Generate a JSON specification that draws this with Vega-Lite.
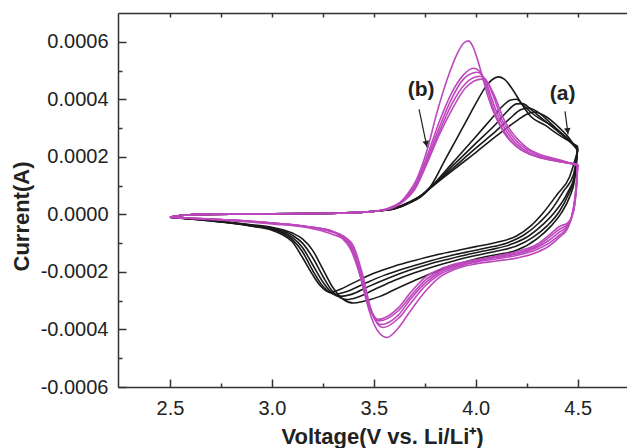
{
"$schema": "https://vega.github.io/schema/vega-lite/v6.json",
"width": 509, "height": 374,
"autosize": {"type": "none"},
"padding": {"left": 118, "top": 13, "right": 0, "bottom": 61},
"background": "white",
"config": {"view": {"stroke": null}, "axis": {"grid": false, "domainColor": "#333", "domainWidth": 1.5, "tickColor": "#333", "tickWidth": 1.5, "labelFont": "Liberation Sans", "labelFontSize": 20, "labelColor": "#222", "titleFont": "Liberation Sans", "titleFontSize": 22, "titleFontWeight": "bold", "titleColor": "#222"}},
"datasets": {
"cv": [
{"s":"a1f","g":"a","x":2.5,"y":-0.1e-4},{"s":"a1f","g":"a","x":2.55,"y":-0.04e-4},{"s":"a1f","g":"a","x":2.65,"y":0},{"s":"a1f","g":"a","x":2.8,"y":0.01e-4},{"s":"a1f","g":"a","x":3.0,"y":0.02e-4},{"s":"a1f","g":"a","x":3.2,"y":0.03e-4},{"s":"a1f","g":"a","x":3.35,"y":0.05e-4},{"s":"a1f","g":"a","x":3.45,"y":0.08e-4},{"s":"a1f","g":"a","x":3.52,"y":0.12e-4},
{"s":"a1f","g":"a","x":3.6,"y":0.22e-4},{"s":"a1f","g":"a","x":3.68,"y":0.45e-4},{"s":"a1f","g":"a","x":3.73,"y":0.65e-4},{"s":"a1f","g":"a","x":3.776,"y":0.95e-4},{"s":"a1f","g":"a","x":3.85,"y":1.9e-4},{"s":"a1f","g":"a","x":3.9,"y":2.55e-4},{"s":"a1f","g":"a","x":3.95,"y":3.2e-4},{"s":"a1f","g":"a","x":4.0,"y":3.85e-4},{"s":"a1f","g":"a","x":4.05,"y":4.45e-4},{"s":"a1f","g":"a","x":4.08,"y":4.68e-4},{"s":"a1f","g":"a","x":4.11,"y":4.78e-4},{"s":"a1f","g":"a","x":4.14,"y":4.7e-4},{"s":"a1f","g":"a","x":4.18,"y":4.35e-4},{"s":"a1f","g":"a","x":4.22,"y":3.9e-4},{"s":"a1f","g":"a","x":4.27,"y":3.4e-4},{"s":"a1f","g":"a","x":4.34,"y":3.1e-4},{"s":"a1f","g":"a","x":4.4,"y":2.8e-4},{"s":"a1f","g":"a","x":4.45,"y":2.58e-4},{"s":"a1f","g":"a","x":4.5,"y":2.37e-4},

{"s":"a2f","g":"a","x":2.5,"y":-0.1e-4},{"s":"a2f","g":"a","x":2.55,"y":-0.04e-4},{"s":"a2f","g":"a","x":2.65,"y":0},{"s":"a2f","g":"a","x":2.8,"y":0.01e-4},{"s":"a2f","g":"a","x":3.0,"y":0.02e-4},{"s":"a2f","g":"a","x":3.2,"y":0.03e-4},{"s":"a2f","g":"a","x":3.35,"y":0.05e-4},{"s":"a2f","g":"a","x":3.45,"y":0.08e-4},{"s":"a2f","g":"a","x":3.52,"y":0.12e-4},
{"s":"a2f","g":"a","x":3.6,"y":0.21e-4},{"s":"a2f","g":"a","x":3.68,"y":0.44e-4},{"s":"a2f","g":"a","x":3.73,"y":0.64e-4},{"s":"a2f","g":"a","x":3.776,"y":0.93e-4},{"s":"a2f","g":"a","x":3.85,"y":1.5e-4},{"s":"a2f","g":"a","x":3.9,"y":1.9e-4},{"s":"a2f","g":"a","x":4.0,"y":2.7e-4},{"s":"a2f","g":"a","x":4.08,"y":3.35e-4},{"s":"a2f","g":"a","x":4.13,"y":3.75e-4},{"s":"a2f","g":"a","x":4.168,"y":3.97e-4},{"s":"a2f","g":"a","x":4.2,"y":4.0e-4},{"s":"a2f","g":"a","x":4.23,"y":3.82e-4},{"s":"a2f","g":"a","x":4.27,"y":3.55e-4},{"s":"a2f","g":"a","x":4.32,"y":3.3e-4},{"s":"a2f","g":"a","x":4.37,"y":3.1e-4},{"s":"a2f","g":"a","x":4.44,"y":2.7e-4},{"s":"a2f","g":"a","x":4.5,"y":2.3e-4},

{"s":"a3f","g":"a","x":2.5,"y":-0.1e-4},{"s":"a3f","g":"a","x":2.55,"y":-0.04e-4},{"s":"a3f","g":"a","x":2.65,"y":0},{"s":"a3f","g":"a","x":2.8,"y":0.01e-4},{"s":"a3f","g":"a","x":3.0,"y":0.02e-4},{"s":"a3f","g":"a","x":3.2,"y":0.03e-4},{"s":"a3f","g":"a","x":3.35,"y":0.05e-4},{"s":"a3f","g":"a","x":3.45,"y":0.08e-4},{"s":"a3f","g":"a","x":3.52,"y":0.12e-4},
{"s":"a3f","g":"a","x":3.6,"y":0.2e-4},{"s":"a3f","g":"a","x":3.68,"y":0.43e-4},{"s":"a3f","g":"a","x":3.73,"y":0.63e-4},{"s":"a3f","g":"a","x":3.776,"y":0.92e-4},{"s":"a3f","g":"a","x":3.9,"y":1.78e-4},{"s":"a3f","g":"a","x":4.0,"y":2.47e-4},{"s":"a3f","g":"a","x":4.1,"y":3.15e-4},{"s":"a3f","g":"a","x":4.15,"y":3.55e-4},{"s":"a3f","g":"a","x":4.2,"y":3.84e-4},{"s":"a3f","g":"a","x":4.23,"y":3.85e-4},{"s":"a3f","g":"a","x":4.27,"y":3.65e-4},{"s":"a3f","g":"a","x":4.33,"y":3.3e-4},{"s":"a3f","g":"a","x":4.4,"y":2.9e-4},{"s":"a3f","g":"a","x":4.45,"y":2.62e-4},{"s":"a3f","g":"a","x":4.5,"y":2.28e-4},

{"s":"a4f","g":"a","x":2.5,"y":-0.1e-4},{"s":"a4f","g":"a","x":2.55,"y":-0.04e-4},{"s":"a4f","g":"a","x":2.65,"y":0},{"s":"a4f","g":"a","x":2.8,"y":0.01e-4},{"s":"a4f","g":"a","x":3.0,"y":0.02e-4},{"s":"a4f","g":"a","x":3.2,"y":0.03e-4},{"s":"a4f","g":"a","x":3.35,"y":0.05e-4},{"s":"a4f","g":"a","x":3.45,"y":0.08e-4},{"s":"a4f","g":"a","x":3.52,"y":0.12e-4},
{"s":"a4f","g":"a","x":3.6,"y":0.2e-4},{"s":"a4f","g":"a","x":3.68,"y":0.42e-4},{"s":"a4f","g":"a","x":3.73,"y":0.62e-4},{"s":"a4f","g":"a","x":3.776,"y":0.91e-4},{"s":"a4f","g":"a","x":3.9,"y":1.68e-4},{"s":"a4f","g":"a","x":4.0,"y":2.3e-4},{"s":"a4f","g":"a","x":4.1,"y":2.9e-4},{"s":"a4f","g":"a","x":4.17,"y":3.35e-4},{"s":"a4f","g":"a","x":4.22,"y":3.64e-4},{"s":"a4f","g":"a","x":4.26,"y":3.7e-4},{"s":"a4f","g":"a","x":4.3,"y":3.58e-4},{"s":"a4f","g":"a","x":4.36,"y":3.22e-4},{"s":"a4f","g":"a","x":4.42,"y":2.82e-4},{"s":"a4f","g":"a","x":4.5,"y":2.25e-4},

{"s":"a5f","g":"a","x":2.5,"y":-0.1e-4},{"s":"a5f","g":"a","x":2.55,"y":-0.04e-4},{"s":"a5f","g":"a","x":2.65,"y":0},{"s":"a5f","g":"a","x":2.8,"y":0.01e-4},{"s":"a5f","g":"a","x":3.0,"y":0.02e-4},{"s":"a5f","g":"a","x":3.2,"y":0.03e-4},{"s":"a5f","g":"a","x":3.35,"y":0.05e-4},{"s":"a5f","g":"a","x":3.45,"y":0.08e-4},{"s":"a5f","g":"a","x":3.52,"y":0.12e-4},
{"s":"a5f","g":"a","x":3.6,"y":0.19e-4},{"s":"a5f","g":"a","x":3.68,"y":0.41e-4},{"s":"a5f","g":"a","x":3.73,"y":0.61e-4},{"s":"a5f","g":"a","x":3.776,"y":0.9e-4},{"s":"a5f","g":"a","x":3.9,"y":1.6e-4},{"s":"a5f","g":"a","x":4.0,"y":2.15e-4},{"s":"a5f","g":"a","x":4.1,"y":2.72e-4},{"s":"a5f","g":"a","x":4.2,"y":3.25e-4},{"s":"a5f","g":"a","x":4.25,"y":3.48e-4},{"s":"a5f","g":"a","x":4.29,"y":3.56e-4},{"s":"a5f","g":"a","x":4.34,"y":3.42e-4},{"s":"a5f","g":"a","x":4.4,"y":3.08e-4},{"s":"a5f","g":"a","x":4.45,"y":2.72e-4},{"s":"a5f","g":"a","x":4.5,"y":2.22e-4},

{"s":"a1r","g":"a","x":2.5,"y":-0.1e-4},{"s":"a1r","g":"a","x":2.6,"y":-0.15e-4},{"s":"a1r","g":"a","x":2.7,"y":-0.2e-4},{"s":"a1r","g":"a","x":2.8,"y":-0.28e-4},{"s":"a1r","g":"a","x":2.9,"y":-0.36e-4},{"s":"a1r","g":"a","x":3.0,"y":-0.45e-4},{"s":"a1r","g":"a","x":3.1,"y":-0.65e-4},{"s":"a1r","g":"a","x":3.15,"y":-0.85e-4},{"s":"a1r","g":"a","x":3.2,"y":-1.25e-4},{"s":"a1r","g":"a","x":3.25,"y":-1.9e-4},{"s":"a1r","g":"a","x":3.3,"y":-2.55e-4},{"s":"a1r","g":"a","x":3.35,"y":-2.95e-4},{"s":"a1r","g":"a","x":3.4,"y":-3.08e-4},{"s":"a1r","g":"a","x":3.45,"y":-3.02e-4},{"s":"a1r","g":"a","x":3.53,"y":-2.85e-4},{"s":"a1r","g":"a","x":3.6,"y":-2.62e-4},{"s":"a1r","g":"a","x":3.7,"y":-2.3e-4},{"s":"a1r","g":"a","x":3.8,"y":-2.0e-4},{"s":"a1r","g":"a","x":3.9,"y":-1.75e-4},{"s":"a1r","g":"a","x":4.0,"y":-1.55e-4},{"s":"a1r","g":"a","x":4.1,"y":-1.4e-4},{"s":"a1r","g":"a","x":4.2,"y":-1.25e-4},{"s":"a1r","g":"a","x":4.3,"y":-0.85e-4},{"s":"a1r","g":"a","x":4.37,"y":-0.4e-4},{"s":"a1r","g":"a","x":4.42,"y":0.05e-4},{"s":"a1r","g":"a","x":4.46,"y":0.6e-4},{"s":"a1r","g":"a","x":4.485,"y":1.2e-4},{"s":"a1r","g":"a","x":4.5,"y":2.37e-4},

{"s":"a2r","g":"a","x":2.5,"y":-0.1e-4},{"s":"a2r","g":"a","x":2.6,"y":-0.15e-4},{"s":"a2r","g":"a","x":2.7,"y":-0.2e-4},{"s":"a2r","g":"a","x":2.8,"y":-0.28e-4},{"s":"a2r","g":"a","x":2.9,"y":-0.37e-4},{"s":"a2r","g":"a","x":3.0,"y":-0.48e-4},{"s":"a2r","g":"a","x":3.1,"y":-0.72e-4},{"s":"a2r","g":"a","x":3.15,"y":-1.0e-4},{"s":"a2r","g":"a","x":3.2,"y":-1.5e-4},{"s":"a2r","g":"a","x":3.25,"y":-2.15e-4},{"s":"a2r","g":"a","x":3.3,"y":-2.7e-4},{"s":"a2r","g":"a","x":3.368,"y":-2.96e-4},{"s":"a2r","g":"a","x":3.42,"y":-2.88e-4},{"s":"a2r","g":"a","x":3.5,"y":-2.62e-4},{"s":"a2r","g":"a","x":3.6,"y":-2.3e-4},{"s":"a2r","g":"a","x":3.7,"y":-2.03e-4},{"s":"a2r","g":"a","x":3.8,"y":-1.8e-4},{"s":"a2r","g":"a","x":3.9,"y":-1.6e-4},{"s":"a2r","g":"a","x":4.0,"y":-1.43e-4},{"s":"a2r","g":"a","x":4.1,"y":-1.28e-4},{"s":"a2r","g":"a","x":4.2,"y":-1.1e-4},{"s":"a2r","g":"a","x":4.28,"y":-0.8e-4},{"s":"a2r","g":"a","x":4.35,"y":-0.4e-4},{"s":"a2r","g":"a","x":4.41,"y":0.1e-4},{"s":"a2r","g":"a","x":4.455,"y":0.7e-4},{"s":"a2r","g":"a","x":4.485,"y":1.3e-4},{"s":"a2r","g":"a","x":4.5,"y":2.3e-4},

{"s":"a3r","g":"a","x":2.5,"y":-0.1e-4},{"s":"a3r","g":"a","x":2.6,"y":-0.16e-4},{"s":"a3r","g":"a","x":2.7,"y":-0.22e-4},{"s":"a3r","g":"a","x":2.8,"y":-0.3e-4},{"s":"a3r","g":"a","x":2.9,"y":-0.39e-4},{"s":"a3r","g":"a","x":3.0,"y":-0.5e-4},{"s":"a3r","g":"a","x":3.1,"y":-0.8e-4},{"s":"a3r","g":"a","x":3.15,"y":-1.15e-4},{"s":"a3r","g":"a","x":3.2,"y":-1.75e-4},{"s":"a3r","g":"a","x":3.25,"y":-2.35e-4},{"s":"a3r","g":"a","x":3.29,"y":-2.7e-4},{"s":"a3r","g":"a","x":3.334,"y":-2.85e-4},{"s":"a3r","g":"a","x":3.39,"y":-2.78e-4},{"s":"a3r","g":"a","x":3.47,"y":-2.52e-4},{"s":"a3r","g":"a","x":3.57,"y":-2.22e-4},{"s":"a3r","g":"a","x":3.67,"y":-1.95e-4},{"s":"a3r","g":"a","x":3.77,"y":-1.73e-4},{"s":"a3r","g":"a","x":3.87,"y":-1.55e-4},{"s":"a3r","g":"a","x":3.97,"y":-1.38e-4},{"s":"a3r","g":"a","x":4.07,"y":-1.23e-4},{"s":"a3r","g":"a","x":4.17,"y":-1.05e-4},{"s":"a3r","g":"a","x":4.26,"y":-0.75e-4},{"s":"a3r","g":"a","x":4.33,"y":-0.35e-4},{"s":"a3r","g":"a","x":4.39,"y":0.1e-4},{"s":"a3r","g":"a","x":4.45,"y":0.75e-4},{"s":"a3r","g":"a","x":4.485,"y":1.35e-4},{"s":"a3r","g":"a","x":4.5,"y":2.28e-4},

{"s":"a4r","g":"a","x":2.5,"y":-0.1e-4},{"s":"a4r","g":"a","x":2.6,"y":-0.16e-4},{"s":"a4r","g":"a","x":2.7,"y":-0.22e-4},{"s":"a4r","g":"a","x":2.8,"y":-0.3e-4},{"s":"a4r","g":"a","x":2.9,"y":-0.4e-4},{"s":"a4r","g":"a","x":3.0,"y":-0.52e-4},{"s":"a4r","g":"a","x":3.05,"y":-0.65e-4},{"s":"a4r","g":"a","x":3.1,"y":-0.88e-4},{"s":"a4r","g":"a","x":3.15,"y":-1.3e-4},{"s":"a4r","g":"a","x":3.2,"y":-1.95e-4},{"s":"a4r","g":"a","x":3.25,"y":-2.5e-4},{"s":"a4r","g":"a","x":3.31,"y":-2.78e-4},{"s":"a4r","g":"a","x":3.36,"y":-2.7e-4},{"s":"a4r","g":"a","x":3.45,"y":-2.42e-4},{"s":"a4r","g":"a","x":3.55,"y":-2.12e-4},{"s":"a4r","g":"a","x":3.65,"y":-1.88e-4},{"s":"a4r","g":"a","x":3.75,"y":-1.67e-4},{"s":"a4r","g":"a","x":3.85,"y":-1.48e-4},{"s":"a4r","g":"a","x":3.95,"y":-1.32e-4},{"s":"a4r","g":"a","x":4.05,"y":-1.17e-4},{"s":"a4r","g":"a","x":4.15,"y":-1.0e-4},{"s":"a4r","g":"a","x":4.24,"y":-0.7e-4},{"s":"a4r","g":"a","x":4.31,"y":-0.3e-4},{"s":"a4r","g":"a","x":4.37,"y":0.15e-4},{"s":"a4r","g":"a","x":4.43,"y":0.8e-4},{"s":"a4r","g":"a","x":4.48,"y":1.4e-4},{"s":"a4r","g":"a","x":4.5,"y":2.25e-4},

{"s":"a5r","g":"a","x":2.5,"y":-0.1e-4},{"s":"a5r","g":"a","x":2.6,"y":-0.16e-4},{"s":"a5r","g":"a","x":2.7,"y":-0.23e-4},{"s":"a5r","g":"a","x":2.8,"y":-0.31e-4},{"s":"a5r","g":"a","x":2.9,"y":-0.41e-4},{"s":"a5r","g":"a","x":3.0,"y":-0.55e-4},{"s":"a5r","g":"a","x":3.05,"y":-0.7e-4},{"s":"a5r","g":"a","x":3.1,"y":-0.95e-4},{"s":"a5r","g":"a","x":3.15,"y":-1.5e-4},{"s":"a5r","g":"a","x":3.2,"y":-2.1e-4},{"s":"a5r","g":"a","x":3.24,"y":-2.5e-4},{"s":"a5r","g":"a","x":3.285,"y":-2.71e-4},{"s":"a5r","g":"a","x":3.33,"y":-2.62e-4},{"s":"a5r","g":"a","x":3.4,"y":-2.38e-4},{"s":"a5r","g":"a","x":3.5,"y":-2.05e-4},{"s":"a5r","g":"a","x":3.6,"y":-1.8e-4},{"s":"a5r","g":"a","x":3.7,"y":-1.6e-4},{"s":"a5r","g":"a","x":3.8,"y":-1.42e-4},{"s":"a5r","g":"a","x":3.9,"y":-1.27e-4},{"s":"a5r","g":"a","x":4.0,"y":-1.12e-4},{"s":"a5r","g":"a","x":4.1,"y":-0.98e-4},{"s":"a5r","g":"a","x":4.2,"y":-0.75e-4},{"s":"a5r","g":"a","x":4.27,"y":-0.4e-4},{"s":"a5r","g":"a","x":4.33,"y":0.05e-4},{"s":"a5r","g":"a","x":4.4,"y":0.7e-4},{"s":"a5r","g":"a","x":4.46,"y":1.3e-4},{"s":"a5r","g":"a","x":4.5,"y":2.22e-4},

{"s":"b1f","g":"b","x":2.5,"y":-0.1e-4},{"s":"b1f","g":"b","x":2.55,"y":-0.04e-4},{"s":"b1f","g":"b","x":2.65,"y":0},{"s":"b1f","g":"b","x":2.8,"y":0.01e-4},{"s":"b1f","g":"b","x":3.0,"y":0.02e-4},{"s":"b1f","g":"b","x":3.2,"y":0.03e-4},{"s":"b1f","g":"b","x":3.35,"y":0.05e-4},{"s":"b1f","g":"b","x":3.45,"y":0.08e-4},{"s":"b1f","g":"b","x":3.52,"y":0.12e-4},
{"s":"b1f","g":"b","x":3.6,"y":0.3e-4},{"s":"b1f","g":"b","x":3.63,"y":0.42e-4},{"s":"b1f","g":"b","x":3.67,"y":0.75e-4},{"s":"b1f","g":"b","x":3.71,"y":1.22e-4},{"s":"b1f","g":"b","x":3.76,"y":2.2e-4},{"s":"b1f","g":"b","x":3.81,"y":3.55e-4},{"s":"b1f","g":"b","x":3.86,"y":4.7e-4},{"s":"b1f","g":"b","x":3.91,"y":5.6e-4},{"s":"b1f","g":"b","x":3.94,"y":5.95e-4},{"s":"b1f","g":"b","x":3.964,"y":6.03e-4},{"s":"b1f","g":"b","x":3.985,"y":5.85e-4},{"s":"b1f","g":"b","x":4.01,"y":5.35e-4},{"s":"b1f","g":"b","x":4.036,"y":4.7e-4},{"s":"b1f","g":"b","x":4.06,"y":4.1e-4},{"s":"b1f","g":"b","x":4.1,"y":3.35e-4},{"s":"b1f","g":"b","x":4.14,"y":2.82e-4},{"s":"b1f","g":"b","x":4.18,"y":2.48e-4},{"s":"b1f","g":"b","x":4.22,"y":2.25e-4},{"s":"b1f","g":"b","x":4.27,"y":2.08e-4},{"s":"b1f","g":"b","x":4.35,"y":1.92e-4},{"s":"b1f","g":"b","x":4.5,"y":1.75e-4},

{"s":"b2f","g":"b","x":2.5,"y":-0.1e-4},{"s":"b2f","g":"b","x":2.55,"y":-0.04e-4},{"s":"b2f","g":"b","x":2.65,"y":0},{"s":"b2f","g":"b","x":2.8,"y":0.01e-4},{"s":"b2f","g":"b","x":3.0,"y":0.02e-4},{"s":"b2f","g":"b","x":3.2,"y":0.03e-4},{"s":"b2f","g":"b","x":3.35,"y":0.05e-4},{"s":"b2f","g":"b","x":3.45,"y":0.08e-4},{"s":"b2f","g":"b","x":3.52,"y":0.12e-4},
{"s":"b2f","g":"b","x":3.6,"y":0.28e-4},{"s":"b2f","g":"b","x":3.65,"y":0.55e-4},{"s":"b2f","g":"b","x":3.7,"y":1.0e-4},{"s":"b2f","g":"b","x":3.76,"y":2.0e-4},{"s":"b2f","g":"b","x":3.82,"y":3.2e-4},{"s":"b2f","g":"b","x":3.88,"y":4.2e-4},{"s":"b2f","g":"b","x":3.94,"y":4.85e-4},{"s":"b2f","g":"b","x":3.987,"y":5.08e-4},{"s":"b2f","g":"b","x":4.015,"y":5.0e-4},{"s":"b2f","g":"b","x":4.045,"y":4.6e-4},{"s":"b2f","g":"b","x":4.07,"y":4.05e-4},{"s":"b2f","g":"b","x":4.1,"y":3.42e-4},{"s":"b2f","g":"b","x":4.14,"y":2.88e-4},{"s":"b2f","g":"b","x":4.18,"y":2.5e-4},{"s":"b2f","g":"b","x":4.22,"y":2.26e-4},{"s":"b2f","g":"b","x":4.3,"y":2.0e-4},{"s":"b2f","g":"b","x":4.4,"y":1.85e-4},{"s":"b2f","g":"b","x":4.5,"y":1.74e-4},

{"s":"b3f","g":"b","x":2.5,"y":-0.1e-4},{"s":"b3f","g":"b","x":2.55,"y":-0.04e-4},{"s":"b3f","g":"b","x":2.65,"y":0},{"s":"b3f","g":"b","x":2.8,"y":0.01e-4},{"s":"b3f","g":"b","x":3.0,"y":0.02e-4},{"s":"b3f","g":"b","x":3.2,"y":0.03e-4},{"s":"b3f","g":"b","x":3.35,"y":0.05e-4},{"s":"b3f","g":"b","x":3.45,"y":0.08e-4},{"s":"b3f","g":"b","x":3.52,"y":0.12e-4},
{"s":"b3f","g":"b","x":3.6,"y":0.27e-4},{"s":"b3f","g":"b","x":3.65,"y":0.52e-4},{"s":"b3f","g":"b","x":3.7,"y":0.95e-4},{"s":"b3f","g":"b","x":3.76,"y":1.9e-4},{"s":"b3f","g":"b","x":3.82,"y":3.0e-4},{"s":"b3f","g":"b","x":3.88,"y":4.0e-4},{"s":"b3f","g":"b","x":3.94,"y":4.7e-4},{"s":"b3f","g":"b","x":4.006,"y":4.94e-4},{"s":"b3f","g":"b","x":4.03,"y":4.85e-4},{"s":"b3f","g":"b","x":4.055,"y":4.5e-4},{"s":"b3f","g":"b","x":4.08,"y":4.0e-4},{"s":"b3f","g":"b","x":4.11,"y":3.42e-4},{"s":"b3f","g":"b","x":4.15,"y":2.9e-4},{"s":"b3f","g":"b","x":4.19,"y":2.52e-4},{"s":"b3f","g":"b","x":4.23,"y":2.28e-4},{"s":"b3f","g":"b","x":4.3,"y":2.02e-4},{"s":"b3f","g":"b","x":4.4,"y":1.86e-4},{"s":"b3f","g":"b","x":4.5,"y":1.73e-4},

{"s":"b4f","g":"b","x":2.5,"y":-0.1e-4},{"s":"b4f","g":"b","x":2.55,"y":-0.04e-4},{"s":"b4f","g":"b","x":2.65,"y":0},{"s":"b4f","g":"b","x":2.8,"y":0.01e-4},{"s":"b4f","g":"b","x":3.0,"y":0.02e-4},{"s":"b4f","g":"b","x":3.2,"y":0.03e-4},{"s":"b4f","g":"b","x":3.35,"y":0.05e-4},{"s":"b4f","g":"b","x":3.45,"y":0.08e-4},{"s":"b4f","g":"b","x":3.52,"y":0.12e-4},
{"s":"b4f","g":"b","x":3.6,"y":0.26e-4},{"s":"b4f","g":"b","x":3.65,"y":0.5e-4},{"s":"b4f","g":"b","x":3.7,"y":0.9e-4},{"s":"b4f","g":"b","x":3.76,"y":1.8e-4},{"s":"b4f","g":"b","x":3.82,"y":2.85e-4},{"s":"b4f","g":"b","x":3.88,"y":3.8e-4},{"s":"b4f","g":"b","x":3.95,"y":4.55e-4},{"s":"b4f","g":"b","x":4.02,"y":4.8e-4},{"s":"b4f","g":"b","x":4.045,"y":4.72e-4},{"s":"b4f","g":"b","x":4.07,"y":4.4e-4},{"s":"b4f","g":"b","x":4.095,"y":3.95e-4},{"s":"b4f","g":"b","x":4.12,"y":3.42e-4},{"s":"b4f","g":"b","x":4.16,"y":2.92e-4},{"s":"b4f","g":"b","x":4.2,"y":2.55e-4},{"s":"b4f","g":"b","x":4.24,"y":2.3e-4},{"s":"b4f","g":"b","x":4.31,"y":2.05e-4},{"s":"b4f","g":"b","x":4.4,"y":1.88e-4},{"s":"b4f","g":"b","x":4.5,"y":1.72e-4},

{"s":"b5f","g":"b","x":2.5,"y":-0.1e-4},{"s":"b5f","g":"b","x":2.55,"y":-0.04e-4},{"s":"b5f","g":"b","x":2.65,"y":0},{"s":"b5f","g":"b","x":2.8,"y":0.01e-4},{"s":"b5f","g":"b","x":3.0,"y":0.02e-4},{"s":"b5f","g":"b","x":3.2,"y":0.03e-4},{"s":"b5f","g":"b","x":3.35,"y":0.05e-4},{"s":"b5f","g":"b","x":3.45,"y":0.08e-4},{"s":"b5f","g":"b","x":3.52,"y":0.12e-4},
{"s":"b5f","g":"b","x":3.6,"y":0.25e-4},{"s":"b5f","g":"b","x":3.65,"y":0.48e-4},{"s":"b5f","g":"b","x":3.7,"y":0.85e-4},{"s":"b5f","g":"b","x":3.76,"y":1.75e-4},{"s":"b5f","g":"b","x":3.82,"y":2.75e-4},{"s":"b5f","g":"b","x":3.88,"y":3.6e-4},{"s":"b5f","g":"b","x":3.95,"y":4.4e-4},{"s":"b5f","g":"b","x":4.03,"y":4.7e-4},{"s":"b5f","g":"b","x":4.055,"y":4.62e-4},{"s":"b5f","g":"b","x":4.08,"y":4.3e-4},{"s":"b5f","g":"b","x":4.105,"y":3.9e-4},{"s":"b5f","g":"b","x":4.13,"y":3.42e-4},{"s":"b5f","g":"b","x":4.17,"y":2.93e-4},{"s":"b5f","g":"b","x":4.21,"y":2.58e-4},{"s":"b5f","g":"b","x":4.25,"y":2.32e-4},{"s":"b5f","g":"b","x":4.32,"y":2.07e-4},{"s":"b5f","g":"b","x":4.41,"y":1.9e-4},{"s":"b5f","g":"b","x":4.5,"y":1.7e-4},

{"s":"b1r","g":"b","x":2.5,"y":-0.1e-4},{"s":"b1r","g":"b","x":2.6,"y":-0.14e-4},{"s":"b1r","g":"b","x":2.8,"y":-0.22e-4},{"s":"b1r","g":"b","x":3.0,"y":-0.33e-4},{"s":"b1r","g":"b","x":3.2,"y":-0.5e-4},{"s":"b1r","g":"b","x":3.3,"y":-0.7e-4},{"s":"b1r","g":"b","x":3.38,"y":-1.0e-4},{"s":"b1r","g":"b","x":3.43,"y":-2.0e-4},{"s":"b1r","g":"b","x":3.467,"y":-3.1e-4},{"s":"b1r","g":"b","x":3.5,"y":-3.8e-4},{"s":"b1r","g":"b","x":3.53,"y":-4.15e-4},{"s":"b1r","g":"b","x":3.565,"y":-4.28e-4},{"s":"b1r","g":"b","x":3.62,"y":-3.95e-4},{"s":"b1r","g":"b","x":3.68,"y":-3.35e-4},{"s":"b1r","g":"b","x":3.75,"y":-2.7e-4},{"s":"b1r","g":"b","x":3.82,"y":-2.2e-4},{"s":"b1r","g":"b","x":3.9,"y":-1.9e-4},{"s":"b1r","g":"b","x":4.0,"y":-1.72e-4},{"s":"b1r","g":"b","x":4.1,"y":-1.62e-4},{"s":"b1r","g":"b","x":4.2,"y":-1.52e-4},{"s":"b1r","g":"b","x":4.3,"y":-1.32e-4},{"s":"b1r","g":"b","x":4.36,"y":-1.1e-4},{"s":"b1r","g":"b","x":4.41,"y":-0.8e-4},{"s":"b1r","g":"b","x":4.45,"y":-0.5e-4},{"s":"b1r","g":"b","x":4.47,"y":-0.1e-4},{"s":"b1r","g":"b","x":4.485,"y":0.5e-4},{"s":"b1r","g":"b","x":4.495,"y":1.2e-4},{"s":"b1r","g":"b","x":4.5,"y":1.75e-4},

{"s":"b2r","g":"b","x":2.5,"y":-0.1e-4},{"s":"b2r","g":"b","x":2.6,"y":-0.13e-4},{"s":"b2r","g":"b","x":2.8,"y":-0.2e-4},{"s":"b2r","g":"b","x":3.0,"y":-0.3e-4},{"s":"b2r","g":"b","x":3.2,"y":-0.46e-4},{"s":"b2r","g":"b","x":3.3,"y":-0.62e-4},{"s":"b2r","g":"b","x":3.35,"y":-0.75e-4},{"s":"b2r","g":"b","x":3.4,"y":-1.1e-4},{"s":"b2r","g":"b","x":3.445,"y":-2.1e-4},{"s":"b2r","g":"b","x":3.48,"y":-3.15e-4},{"s":"b2r","g":"b","x":3.51,"y":-3.72e-4},{"s":"b2r","g":"b","x":3.545,"y":-3.93e-4},{"s":"b2r","g":"b","x":3.62,"y":-3.62e-4},{"s":"b2r","g":"b","x":3.68,"y":-3.1e-4},{"s":"b2r","g":"b","x":3.75,"y":-2.5e-4},{"s":"b2r","g":"b","x":3.82,"y":-2.1e-4},{"s":"b2r","g":"b","x":3.9,"y":-1.85e-4},{"s":"b2r","g":"b","x":4.0,"y":-1.66e-4},{"s":"b2r","g":"b","x":4.1,"y":-1.55e-4},{"s":"b2r","g":"b","x":4.2,"y":-1.43e-4},{"s":"b2r","g":"b","x":4.3,"y":-1.22e-4},{"s":"b2r","g":"b","x":4.36,"y":-1.0e-4},{"s":"b2r","g":"b","x":4.41,"y":-0.72e-4},{"s":"b2r","g":"b","x":4.45,"y":-0.45e-4},{"s":"b2r","g":"b","x":4.47,"y":-0.1e-4},{"s":"b2r","g":"b","x":4.485,"y":0.45e-4},{"s":"b2r","g":"b","x":4.495,"y":1.15e-4},{"s":"b2r","g":"b","x":4.5,"y":1.74e-4},

{"s":"b3r","g":"b","x":2.5,"y":-0.1e-4},{"s":"b3r","g":"b","x":2.6,"y":-0.13e-4},{"s":"b3r","g":"b","x":2.8,"y":-0.2e-4},{"s":"b3r","g":"b","x":3.0,"y":-0.3e-4},{"s":"b3r","g":"b","x":3.2,"y":-0.45e-4},{"s":"b3r","g":"b","x":3.3,"y":-0.6e-4},{"s":"b3r","g":"b","x":3.35,"y":-0.76e-4},{"s":"b3r","g":"b","x":3.4,"y":-1.2e-4},{"s":"b3r","g":"b","x":3.44,"y":-2.1e-4},{"s":"b3r","g":"b","x":3.47,"y":-3.0e-4},{"s":"b3r","g":"b","x":3.5,"y":-3.58e-4},{"s":"b3r","g":"b","x":3.535,"y":-3.83e-4},{"s":"b3r","g":"b","x":3.62,"y":-3.5e-4},{"s":"b3r","g":"b","x":3.68,"y":-2.95e-4},{"s":"b3r","g":"b","x":3.75,"y":-2.4e-4},{"s":"b3r","g":"b","x":3.82,"y":-2.03e-4},{"s":"b3r","g":"b","x":3.9,"y":-1.8e-4},{"s":"b3r","g":"b","x":4.0,"y":-1.63e-4},{"s":"b3r","g":"b","x":4.1,"y":-1.5e-4},{"s":"b3r","g":"b","x":4.2,"y":-1.38e-4},{"s":"b3r","g":"b","x":4.3,"y":-1.15e-4},{"s":"b3r","g":"b","x":4.36,"y":-0.9e-4},{"s":"b3r","g":"b","x":4.41,"y":-0.62e-4},{"s":"b3r","g":"b","x":4.45,"y":-0.4e-4},{"s":"b3r","g":"b","x":4.47,"y":-0.1e-4},{"s":"b3r","g":"b","x":4.485,"y":0.4e-4},{"s":"b3r","g":"b","x":4.495,"y":1.1e-4},{"s":"b3r","g":"b","x":4.5,"y":1.73e-4},

{"s":"b4r","g":"b","x":2.5,"y":-0.1e-4},{"s":"b4r","g":"b","x":2.6,"y":-0.13e-4},{"s":"b4r","g":"b","x":2.8,"y":-0.2e-4},{"s":"b4r","g":"b","x":3.0,"y":-0.3e-4},{"s":"b4r","g":"b","x":3.2,"y":-0.45e-4},{"s":"b4r","g":"b","x":3.3,"y":-0.6e-4},{"s":"b4r","g":"b","x":3.35,"y":-0.8e-4},{"s":"b4r","g":"b","x":3.39,"y":-1.2e-4},{"s":"b4r","g":"b","x":3.43,"y":-2.05e-4},{"s":"b4r","g":"b","x":3.46,"y":-2.85e-4},{"s":"b4r","g":"b","x":3.49,"y":-3.42e-4},{"s":"b4r","g":"b","x":3.525,"y":-3.7e-4},{"s":"b4r","g":"b","x":3.62,"y":-3.35e-4},{"s":"b4r","g":"b","x":3.68,"y":-2.85e-4},{"s":"b4r","g":"b","x":3.75,"y":-2.3e-4},{"s":"b4r","g":"b","x":3.82,"y":-1.98e-4},{"s":"b4r","g":"b","x":3.9,"y":-1.75e-4},{"s":"b4r","g":"b","x":4.0,"y":-1.6e-4},{"s":"b4r","g":"b","x":4.1,"y":-1.48e-4},{"s":"b4r","g":"b","x":4.2,"y":-1.35e-4},{"s":"b4r","g":"b","x":4.3,"y":-1.1e-4},{"s":"b4r","g":"b","x":4.36,"y":-0.8e-4},{"s":"b4r","g":"b","x":4.41,"y":-0.52e-4},{"s":"b4r","g":"b","x":4.45,"y":-0.35e-4},{"s":"b4r","g":"b","x":4.47,"y":-0.1e-4},{"s":"b4r","g":"b","x":4.485,"y":0.35e-4},{"s":"b4r","g":"b","x":4.495,"y":1.05e-4},{"s":"b4r","g":"b","x":4.5,"y":1.72e-4},

{"s":"b5r","g":"b","x":2.5,"y":-0.1e-4},{"s":"b5r","g":"b","x":2.6,"y":-0.13e-4},{"s":"b5r","g":"b","x":2.8,"y":-0.2e-4},{"s":"b5r","g":"b","x":3.0,"y":-0.3e-4},{"s":"b5r","g":"b","x":3.2,"y":-0.45e-4},{"s":"b5r","g":"b","x":3.3,"y":-0.6e-4},{"s":"b5r","g":"b","x":3.34,"y":-0.8e-4},{"s":"b5r","g":"b","x":3.385,"y":-1.2e-4},{"s":"b5r","g":"b","x":3.425,"y":-1.95e-4},{"s":"b5r","g":"b","x":3.455,"y":-2.72e-4},{"s":"b5r","g":"b","x":3.485,"y":-3.32e-4},{"s":"b5r","g":"b","x":3.52,"y":-3.65e-4},{"s":"b5r","g":"b","x":3.62,"y":-3.25e-4},{"s":"b5r","g":"b","x":3.68,"y":-2.72e-4},{"s":"b5r","g":"b","x":3.75,"y":-2.2e-4},{"s":"b5r","g":"b","x":3.82,"y":-1.92e-4},{"s":"b5r","g":"b","x":3.9,"y":-1.72e-4},{"s":"b5r","g":"b","x":4.0,"y":-1.58e-4},{"s":"b5r","g":"b","x":4.1,"y":-1.45e-4},{"s":"b5r","g":"b","x":4.2,"y":-1.3e-4},{"s":"b5r","g":"b","x":4.3,"y":-1.04e-4},{"s":"b5r","g":"b","x":4.36,"y":-0.72e-4},{"s":"b5r","g":"b","x":4.41,"y":-0.42e-4},{"s":"b5r","g":"b","x":4.45,"y":-0.3e-4},{"s":"b5r","g":"b","x":4.47,"y":-0.1e-4},{"s":"b5r","g":"b","x":4.485,"y":0.3e-4},{"s":"b5r","g":"b","x":4.495,"y":1.0e-4},{"s":"b5r","g":"b","x":4.5,"y":1.7e-4}
],
"ann": [
{"k":"b","t":"(b)","x":3.732,"y":4.33e-4,"x1":3.722,"y1":3.65e-4,"x2":3.761,"y2":2.33e-4,"hx":3.7576,"hy":2.45e-4},
{"k":"a","t":"(a)","x":4.426,"y":4.17e-4,"x1":4.438,"y1":3.58e-4,"x2":4.453,"y2":2.78e-4,"hx":4.4507,"hy":2.9e-4}
]
},
"layer": [
{
"data": {"name": "cv"},
"mark": {"type": "line", "interpolate": "monotone", "strokeWidth": 1.6},
"encoding": {
"x": {"field": "x", "type": "quantitative", "scale": {"domain": [2.245, 4.742], "nice": false, "zero": false},
 "axis": {"orient": "bottom", "values": [2.5, 3, 3.5, 4, 4.5], "format": ".1f", "tickSize": -8, "labelPadding": 19, "title": "Voltage(V vs. Li/Li⁺)", "titleX": 264, "titleY": 56, "titleAlign": "center", "titleBaseline": "alphabetic"}},
"y": {"field": "y", "type": "quantitative", "scale": {"domain": [-0.0006, 0.0007], "nice": false, "zero": false},
 "axis": {"orient": "left", "values": [-0.0006, -0.0004, -0.0002, 0, 0.0002, 0.0004, 0.0006], "labelExpr": "replace(format(datum.value, '.4f'), '\u2212', '-')", "tickSize": -8, "labelPadding": 18, "title": "Current(A)", "titleX": -97, "titleY": 203, "titleAngle": -90, "titleAlign": "center", "titleBaseline": "middle"}},
"color": {"field": "g", "type": "nominal", "scale": {"domain": ["a", "b"], "range": ["#1a1a1a", "#bd48bd"]}, "legend": null},
"detail": {"field": "s"}
}
},
{
"data": {"name": "ann"},
"mark": {"type": "text", "font": "Liberation Sans", "fontSize": 21, "fontWeight": "bold", "color": "#222", "align": "center", "baseline": "middle"},
"encoding": {
"x": {"field": "x", "type": "quantitative", "scale": {"domain": [2.245, 4.742], "nice": false, "zero": false},
 "axis": {"orient": "top", "values": [2.5, 2.75, 3, 3.25, 3.5, 3.75, 4, 4.25, 4.5], "labels": false, "title": null, "tickSize": -4}},
"y": {"field": "y", "type": "quantitative", "scale": {"domain": [-0.0006, 0.0007], "nice": false, "zero": false},
 "axis": {"orient": "left", "values": [-0.0005, -0.0003, -0.0001, 0.0001, 0.0003, 0.0005], "labels": false, "title": null, "domain": false, "tickSize": -4}},
"text": {"field": "t"}
}
},
{
"data": {"name": "ann"},
"mark": {"type": "rule", "color": "#222", "strokeWidth": 1.2},
"encoding": {
"x": {"field": "x1", "type": "quantitative", "scale": {"domain": [2.245, 4.742], "nice": false, "zero": false},
 "axis": {"orient": "bottom", "values": [2.75, 3.25, 3.75, 4.25], "labels": false, "title": null, "domain": false, "tickSize": -4}},
"y": {"field": "y1", "type": "quantitative", "axis": null, "scale": {"domain": [-0.0006, 0.0007], "nice": false, "zero": false}},
"x2": {"field": "x2"},
"y2": {"field": "y2"}
}
},
{
"data": {"name": "ann"},
"transform": [{"filter": "datum.k == 'b'"}],
"mark": {"type": "point", "shape": "triangle-down", "filled": true, "size": 45, "angle": -12, "color": "#222", "opacity": 1},
"encoding": {
"x": {"field": "hx", "type": "quantitative", "axis": null, "scale": {"domain": [2.245, 4.742], "nice": false, "zero": false}},
"y": {"field": "hy", "type": "quantitative", "axis": null, "scale": {"domain": [-0.0006, 0.0007], "nice": false, "zero": false}}
}
},
{
"data": {"name": "ann"},
"transform": [{"filter": "datum.k == 'a'"}],
"mark": {"type": "point", "shape": "triangle-down", "filled": true, "size": 45, "angle": -7, "color": "#222", "opacity": 1},
"encoding": {
"x": {"field": "hx", "type": "quantitative", "axis": null, "scale": {"domain": [2.245, 4.742], "nice": false, "zero": false}},
"y": {"field": "hy", "type": "quantitative", "axis": null, "scale": {"domain": [-0.0006, 0.0007], "nice": false, "zero": false}}
}
}
],
"resolve": {"axis": {"x": "independent", "y": "independent"}}
}
